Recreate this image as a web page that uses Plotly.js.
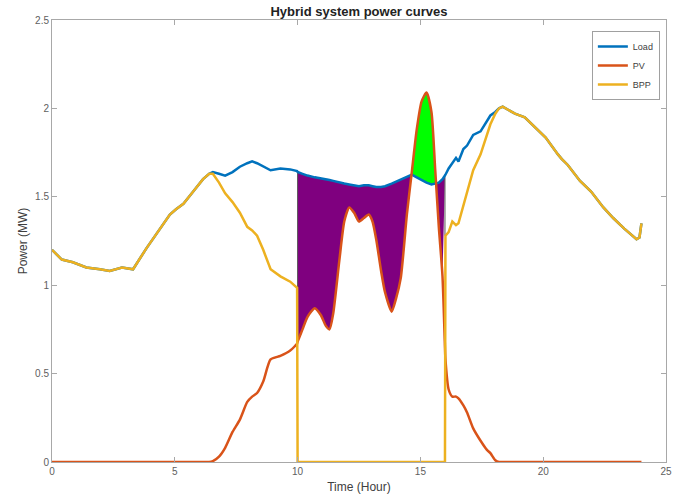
<!DOCTYPE html>
<html>
<head>
<meta charset="utf-8">
<script src="https://cdn.plot.ly/plotly-3.0.1.min.js"></script>
<style>html,body{margin:0;padding:0;background:#fff;}#chart{width:687px;height:499px;}</style>
</head>
<body>
<div id="chart"></div>
<script>
// Time grid (hours)
const hours = [0, 0.4, 0.85, 1.4, 1.95, 2.35, 2.85, 3.3, 3.85, 4.3,
  4.8, 5.05, 5.35, 5.75, 6.15, 6.4, 6.55, 6.8, 7.05, 7.35,
  7.65, 7.95, 8.15, 8.35, 8.6, 8.9, 9.3, 9.7, 9.98, 10.0,
  10.2, 10.4, 10.7, 10.95, 11.15, 11.3, 11.45, 11.7, 11.9, 12.1,
  12.3, 12.5, 12.7, 12.9, 13.05, 13.2, 13.4, 13.56, 13.83, 14.0,
  14.2, 14.45, 14.65, 14.85, 15.05, 15.25, 15.45, 15.6, 15.75, 15.9,
  16.0, 16.02, 16.15, 16.3, 16.45, 16.55, 16.75, 16.9, 17.15, 17.45,
  17.7, 17.85, 18.05, 18.2, 18.35, 18.55, 18.85, 19.25, 19.7, 20.1,
  20.6, 20.75, 21.0, 21.5, 21.95, 22.45, 22.85, 23.3, 23.8, 23.92, 24.0];

// Load (MW)
const load = [1.20, 1.145, 1.13, 1.10, 1.09, 1.08, 1.10, 1.09, 1.21, 1.30,
  1.40, 1.43, 1.46, 1.53, 1.60, 1.63, 1.64, 1.63, 1.62, 1.64,
  1.67, 1.69, 1.70, 1.69, 1.67, 1.65, 1.66, 1.655, 1.645, 1.64,
  1.63, 1.62, 1.61, 1.605, 1.60, 1.595, 1.59, 1.58, 1.575, 1.57,
  1.565, 1.56, 1.565, 1.565, 1.56, 1.555, 1.555, 1.56, 1.575, 1.585,
  1.60, 1.615, 1.625, 1.61, 1.595, 1.58, 1.57, 1.575, 1.58, 1.60,
  1.62, 1.625, 1.66, 1.69, 1.72, 1.70, 1.77, 1.79, 1.85, 1.87,
  1.93, 1.96, 1.98, 2.00, 2.01, 1.995, 1.97, 1.95, 1.89, 1.835,
  1.74, 1.715, 1.68, 1.59, 1.53, 1.44, 1.38, 1.32, 1.26, 1.27, 1.35];

// PV (MW)
const pv = [0, 0, 0, 0, 0, 0, 0, 0, 0, 0,
  0, 0, 0, 0, 0, 0, 0.005, 0.03, 0.08, 0.17,
  0.24, 0.34, 0.37, 0.39, 0.455, 0.58, 0.60, 0.63, 0.67, 0.68,
  0.75, 0.82, 0.87, 0.83, 0.77, 0.75, 0.84, 1.14, 1.36, 1.44,
  1.41, 1.36, 1.38, 1.40, 1.36, 1.26, 1.08, 0.96, 0.85, 0.92,
  1.04, 1.40, 1.64, 1.88, 2.04, 2.09, 1.98, 1.66, 1.33, 1.05,
  0.65, 0.58, 0.41, 0.37, 0.37, 0.36, 0.32, 0.28, 0.19, 0.12,
  0.07, 0.05, 0.01, 0, 0, 0, 0, 0, 0, 0,
  0, 0, 0, 0, 0, 0, 0, 0, 0, 0, 0];

// BPP (MW)
const bpp = [1.20, 1.145, 1.13, 1.10, 1.09, 1.08, 1.10, 1.09, 1.21, 1.30,
  1.40, 1.43, 1.46, 1.53, 1.60, 1.63, 1.63, 1.58, 1.52, 1.47,
  1.41, 1.33, 1.31, 1.28, 1.20, 1.09, 1.05, 1.02, 0.985, 0,
  0, 0, 0, 0, 0, 0, 0, 0, 0, 0,
  0, 0, 0, 0, 0, 0, 0, 0, 0, 0,
  0, 0, 0, 0, 0, 0, 0, 0, 0, 0,
  0, 1.28, 1.30, 1.36, 1.34, 1.35, 1.45, 1.53, 1.65, 1.74,
  1.85, 1.91, 1.97, 2.00, 2.01, 1.995, 1.97, 1.95, 1.89, 1.835,
  1.74, 1.715, 1.68, 1.59, 1.53, 1.44, 1.38, 1.32, 1.26, 1.27, 1.35];

const seriesNames = ['Load', 'PV', 'BPP'];
const seriesColors = ['#0072BD', '#D95319', '#EDB120'];
const windowStart = 10, windowEnd = 16;

// ---- Build fill regions between Load and PV inside the PV window ----
const pts = [];
for (let i = 0; i < hours.length; i++) {
  if (hours[i] >= windowStart && hours[i] < windowEnd) pts.push({t: hours[i], l: load[i], p: pv[i]});
}
const runs = [];
let cur = {under: pts[0].p < pts[0].l, pts: [pts[0]]};
for (let k = 1; k < pts.length; k++) {
  const a = pts[k - 1], b = pts[k];
  const under = b.p < b.l;
  if (under !== cur.under) {
    const da = a.l - a.p, db = b.l - b.p;
    const f = da / (da - db);
    const c = {t: a.t + f * (b.t - a.t), l: a.l + f * (b.l - a.l)};
    c.p = c.l;
    cur.pts.push(c);
    runs.push(cur);
    cur = {under: under, pts: [c]};
  }
  cur.pts.push(b);
}
runs.push(cur);
const endIdx = hours.indexOf(windowEnd);

const traces = [];
runs.forEach((r, ri) => {
  const upX = r.pts.map(q => q.t), upY = r.pts.map(q => q.l);
  if (ri === runs.length - 1 && endIdx >= 0) { upX.push(hours[endIdx]); upY.push(load[endIdx]); }
  const loX = r.pts.map(q => q.t).reverse(), loY = r.pts.map(q => q.p).reverse();
  traces.push({
    x: upX.concat(loX), y: upY.concat(loY), mode: 'lines', fill: 'toself',
    fillcolor: r.under ? '#7F007F' : '#00FF00',
    line: {width: 0, color: r.under ? '#7F007F' : '#00FF00'},
    showlegend: false, hoverinfo: 'skip'
  });
});

// Thin grey edges where BPP switches on/off
for (let i = 0; i < hours.length - 1; i++) {
  if (bpp[i] > 0 && bpp[i + 1] === 0) {
    traces.push({x: [hours[i + 1], hours[i + 1]], y: [load[i + 1], bpp[i]], mode: 'lines',
      line: {color: '#555555', width: 1}, showlegend: false, hoverinfo: 'skip'});
  }
  if (bpp[i] === 0 && bpp[i + 1] > 0) {
    traces.push({x: [hours[i], hours[i]], y: [load[i], bpp[i + 1]], mode: 'lines',
      line: {color: '#555555', width: 1}, showlegend: false, hoverinfo: 'skip'});
  }
}

[load, pv, bpp].forEach((vals, k) => {
  traces.push({
    x: hours, y: vals, mode: 'lines', name: seriesNames[k],
    line: {color: seriesColors[k], width: 2.5, shape: k === 1 ? 'spline' : 'linear', smoothing: 0.6}
  });
});

const axisCommon = {
  showline: true, linecolor: '#a8a8a8', linewidth: 1, mirror: 'ticks',
  ticks: 'inside', ticklen: 5, tickcolor: '#a8a8a8', showgrid: false, zeroline: false,
  tickfont: {size: 10, color: '#606060'}
};

const layout = {
  width: 687, height: 499,
  margin: {l: 52, r: 21, t: 20, b: 37},
  paper_bgcolor: '#ffffff', plot_bgcolor: '#ffffff',
  font: {family: 'Liberation Sans, Arial, sans-serif', color: '#333333'},
  title: {text: '<b>Hybrid system power curves</b>', font: {size: 13, color: '#222222'},
    x: 0.5225, xanchor: 'center', y: 0.978, yanchor: 'middle'},
  xaxis: Object.assign({}, axisCommon, {range: [0, 25], tickvals: [0, 5, 10, 15, 20, 25],
    title: {text: 'Time (Hour)', font: {size: 12, color: '#404040'}, standoff: 6}}),
  yaxis: Object.assign({}, axisCommon, {range: [0, 2.5], tickvals: [0, 0.5, 1, 1.5, 2, 2.5],
    title: {text: 'Power (MW)', font: {size: 12, color: '#404040'}, standoff: 4}}),
  legend: {x: 0.99, xanchor: 'right', y: 0.975, yanchor: 'top', bgcolor: '#ffffff',
    bordercolor: '#a0a0a0', borderwidth: 1, font: {size: 9, color: '#404040'},
    tracegroupgap: 0}
};

Plotly.newPlot('chart', traces, layout, {staticPlot: true, displayModeBar: false});
</script>
</body>
</html>
